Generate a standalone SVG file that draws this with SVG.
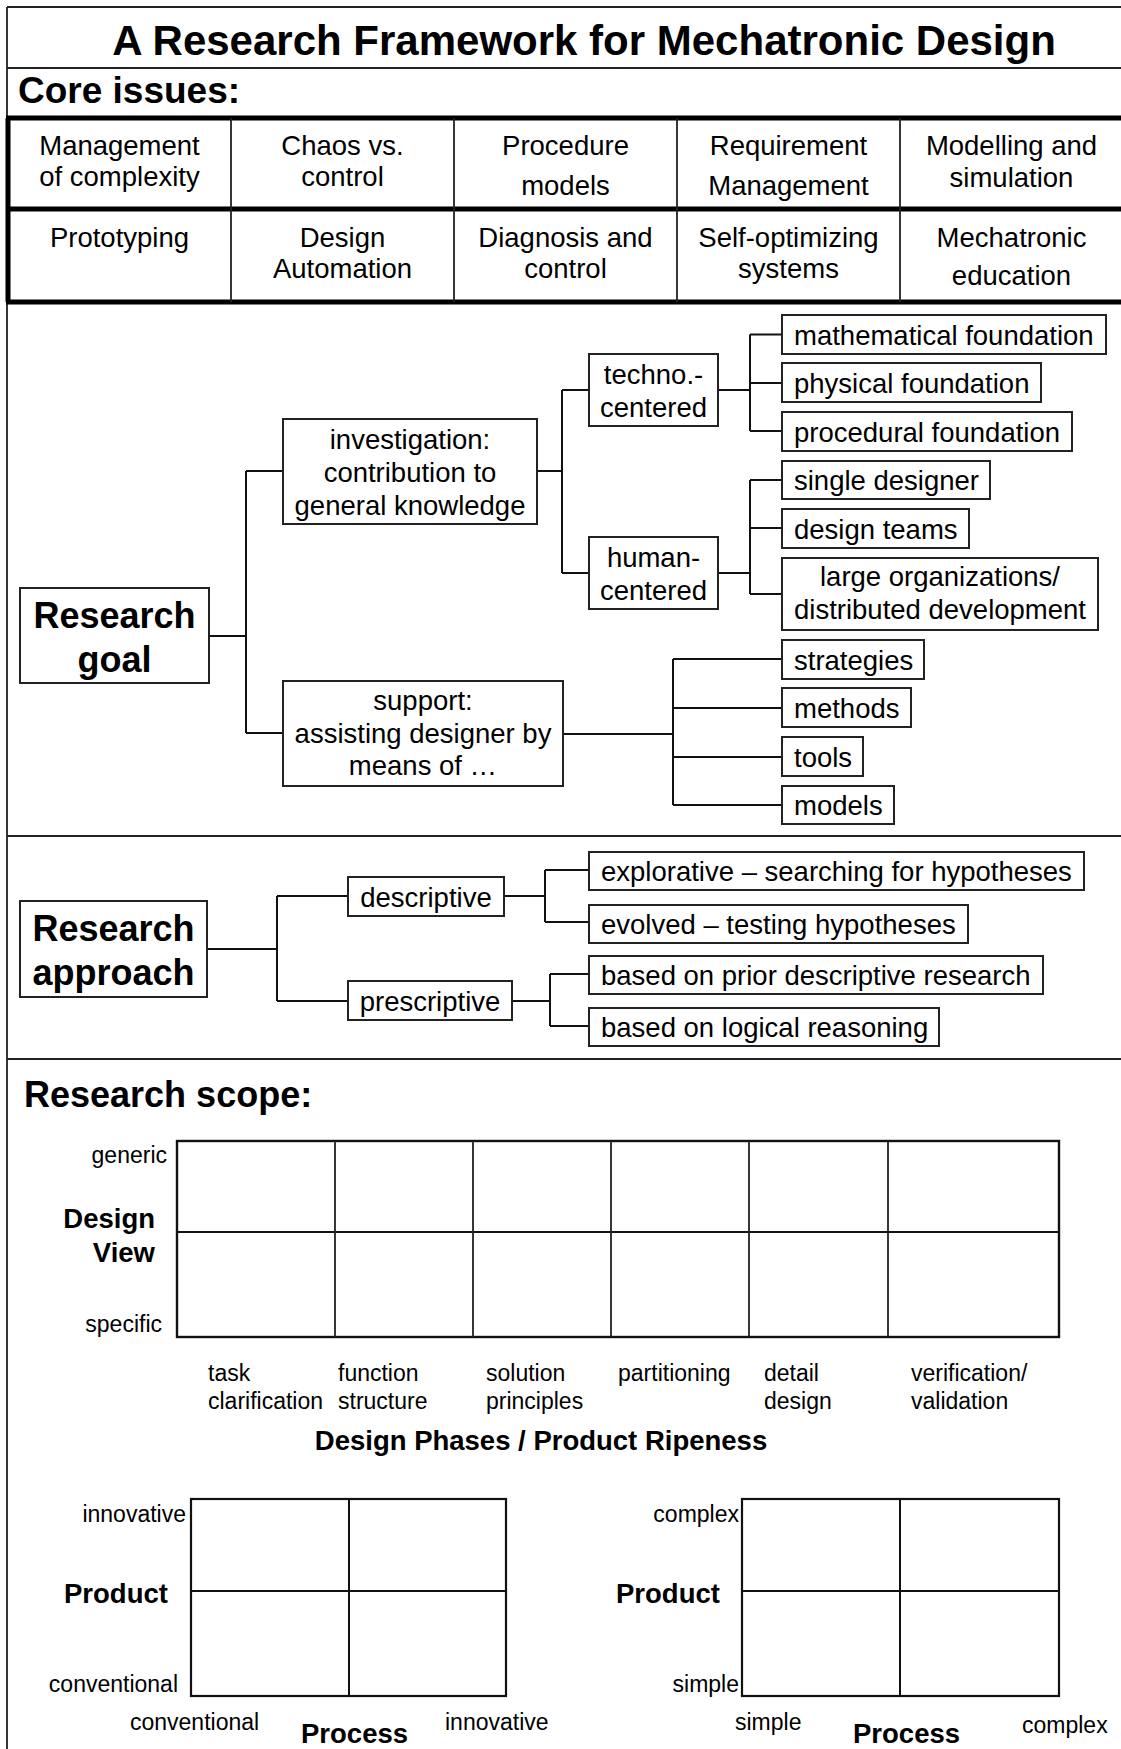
<svg xmlns="http://www.w3.org/2000/svg" width="1121" height="1749" viewBox="0 0 1121 1749">
<style>
text{font-family:"Liberation Sans",Arial,sans-serif;fill:#000}
.t{font-size:27.5px}
.c{text-anchor:middle}
.r{text-anchor:end}
.b{font-weight:bold}
.h1{font-size:42px;font-weight:bold}
.h2{font-size:36px;font-weight:bold}
.h3{font-size:37px;font-weight:bold}
.s{font-size:23px}
.m{font-size:27.5px;font-weight:bold}
.box{fill:#fff;stroke:#222;stroke-width:2}
.ln{fill:none;stroke:#111;stroke-width:2}
.thin{fill:none;stroke:#222;stroke-width:1.8}
.thick{fill:none;stroke:#000;stroke-width:5}
</style>
<rect width="1121" height="1749" fill="#fff"/>
<g id="frame">
<path class="thin" d="M7,7H1121M7,7V1749"/>
<path class="thin" d="M7,68H1121"/>
<path class="thin" d="M7,836H1121M7,1059H1121"/>
</g>
<text class="h1 c" x="584" y="55">A Research Framework for Mechatronic Design</text>
<text class="h3" x="18" y="103">Core issues:</text>
<g id="core-table">
<path class="thick" d="M8,118V302M6,118H1121M6,209H1121M6,302H1121"/>
<path class="thin" d="M231,118V302M454,118V302M677,118V302M900,118V302"/>
</g>
<g id="core-cells" class="t c">
<g id="c11"><text class="t c" x="119.5" y="155">Management</text><text class="t c" x="119.5" y="186">of complexity</text></g>
<g id="c12"><text class="t c" x="342.5" y="155">Chaos vs.</text><text class="t c" x="342.5" y="186">control</text></g>
<g id="c13"><text class="t c" x="565.5" y="155">Procedure</text><text class="t c" x="565.5" y="195">models</text></g>
<g id="c14"><text class="t c" x="788.5" y="155">Requirement</text><text class="t c" x="788.5" y="195">Management</text></g>
<g id="c15"><text class="t c" x="1011.5" y="155">Modelling and</text><text class="t c" x="1011.5" y="187">simulation</text></g>
<g id="c21"><text class="t c" x="119.5" y="247">Prototyping</text></g>
<g id="c22"><text class="t c" x="342.5" y="247">Design</text><text class="t c" x="342.5" y="278">Automation</text></g>
<g id="c23"><text class="t c" x="565.5" y="247">Diagnosis and</text><text class="t c" x="565.5" y="278">control</text></g>
<g id="c24"><text class="t c" x="788.5" y="247">Self-optimizing</text><text class="t c" x="788.5" y="278">systems</text></g>
<g id="c25"><text class="t c" x="1011.5" y="247">Mechatronic</text><text class="t c" x="1011.5" y="285">education</text></g>
</g>
<g id="connectors">
<path class="ln" d="M209,636H246M246,471V733M246,471H283M246,733H283"/>
<path class="ln" d="M537,471H562M562,390V573M562,390H589M562,573H589"/>
<path class="ln" d="M718,390H750M750,334.5V431M750,334.5H782M750,383H782M750,431H782"/>
<path class="ln" d="M718,573H750M750,480V594M750,480H782M750,528H782M750,594H782"/>
<path class="ln" d="M563,734H673M673,659V805M673,659H782M673,708H782M673,757H782M673,805H782"/>
<path class="ln" d="M207,949H277M277,896V1001M277,896H348M277,1001H348"/>
<path class="ln" d="M504,896H545M545,870V922M545,870H589M545,922H589"/>
<path class="ln" d="M512,1001H550M550,974V1026M550,974H589M550,1026H589"/>
</g>
<g id="research-goal"><rect class="box" x="20" y="588" width="189" height="95"/><text class="h2 c" x="114.5" y="628">Research</text><text class="h2 c" x="114.5" y="672">goal</text></g>
<g id="investigation"><rect class="box" x="283" y="419" width="254" height="105"/><text class="t c" x="410" y="449">investigation:</text><text class="t c" x="410" y="482">contribution to</text><text class="t c" x="410" y="515">general knowledge</text></g>
<g id="support"><rect class="box" x="283" y="681" width="280" height="105"/><text class="t c" x="423" y="710">support:</text><text class="t c" x="423" y="743">assisting designer by</text><text class="t c" x="423" y="775">means of …</text></g>
<g id="techno"><rect class="box" x="589" y="354" width="129" height="72"/><text class="t c" x="653.5" y="384">techno.-</text><text class="t c" x="653.5" y="417">centered</text></g>
<g id="human"><rect class="box" x="589" y="537" width="129" height="72"/><text class="t c" x="653.5" y="567">human-</text><text class="t c" x="653.5" y="600">centered</text></g>
<g id="math"><rect class="box" x="782" y="315" width="324" height="39"/><text class="t" x="794" y="345">mathematical foundation</text></g>
<g id="physical"><rect class="box" x="782" y="363" width="259" height="39"/><text class="t" x="794" y="393">physical foundation</text></g>
<g id="procedural"><rect class="box" x="782" y="412" width="290" height="39"/><text class="t" x="794" y="442">procedural foundation</text></g>
<g id="single"><rect class="box" x="782" y="461" width="208" height="38"/><text class="t" x="794" y="490">single designer</text></g>
<g id="teams"><rect class="box" x="782" y="509" width="187" height="39"/><text class="t" x="794" y="539">design teams</text></g>
<g id="large"><rect class="box" x="782" y="558" width="316" height="72"/><text class="t c" x="940" y="586">large organizations/</text><text class="t c" x="940" y="619">distributed development</text></g>
<g id="strategies"><rect class="box" x="782" y="640" width="142" height="39"/><text class="t" x="794" y="670">strategies</text></g>
<g id="methods"><rect class="box" x="782" y="688" width="129" height="39"/><text class="t" x="794" y="718">methods</text></g>
<g id="tools"><rect class="box" x="782" y="737" width="81" height="39"/><text class="t" x="794" y="767">tools</text></g>
<g id="models"><rect class="box" x="782" y="786" width="112" height="38"/><text class="t" x="794" y="815">models</text></g>
<g id="research-approach"><rect class="box" x="20" y="901" width="187" height="96"/><text class="h2 c" x="113.5" y="941">Research</text><text class="h2 c" x="113.5" y="985">approach</text></g>
<g id="descriptive"><rect class="box" x="348" y="877" width="156" height="39"/><text class="t c" x="426" y="907">descriptive</text></g>
<g id="prescriptive"><rect class="box" x="348" y="981" width="164" height="39"/><text class="t c" x="430" y="1011">prescriptive</text></g>
<g id="explorative"><rect class="box" x="589" y="852" width="495" height="38"/><text class="t" x="601" y="881">explorative – searching for hypotheses</text></g>
<g id="evolved"><rect class="box" x="589" y="905" width="379" height="38"/><text class="t" x="601" y="934">evolved – testing hypotheses</text></g>
<g id="prior"><rect class="box" x="589" y="956" width="454" height="38"/><text class="t" x="601" y="985">based on prior descriptive research</text></g>
<g id="logical"><rect class="box" x="589" y="1008" width="350" height="38"/><text class="t" x="601" y="1037">based on logical reasoning</text></g>
<text class="h2" x="24" y="1107">Research scope:</text>
<g id="scope-grid">
<rect x="177" y="1141" width="882" height="196" fill="none" stroke="#111" stroke-width="2.4"/>
<path class="ln" d="M177,1232H1059"/>
<path class="thin" d="M335,1141V1337M473,1141V1337M611,1141V1337M749,1141V1337M888,1141V1337"/>
<text class="s r" x="167" y="1163">generic</text>
<text class="m r" x="155" y="1228">Design</text>
<text class="m r" x="155" y="1262">View</text>
<text class="s r" x="162" y="1332">specific</text>
<text class="s" x="208" y="1381">task</text><text class="s" x="208" y="1409">clarification</text>
<text class="s" x="338" y="1381">function</text><text class="s" x="338" y="1409">structure</text>
<text class="s" x="486" y="1381">solution</text><text class="s" x="486" y="1409">principles</text>
<text class="s" x="618" y="1381">partitioning</text>
<text class="s" x="764" y="1381">detail</text><text class="s" x="764" y="1409">design</text>
<text class="s" x="911" y="1381">verification/</text><text class="s" x="911" y="1409">validation</text>
<text class="m c" x="541" y="1450">Design Phases / Product Ripeness</text>
</g>
<g id="quad-left">
<rect x="191" y="1499" width="315" height="197" fill="none" stroke="#111" stroke-width="2.2"/>
<path class="ln" d="M191,1591H506M349,1499V1696"/>
<text class="s r" x="186" y="1522">innovative</text>
<text class="m" x="64" y="1603">Product</text>
<text class="s r" x="178" y="1692">conventional</text>
<text class="s" x="130" y="1730">conventional</text>
<text class="m" x="301" y="1743">Process</text>
<text class="s" x="445" y="1730">innovative</text>
</g>
<g id="quad-right">
<rect x="742" y="1499" width="317" height="197" fill="none" stroke="#111" stroke-width="2.2"/>
<path class="ln" d="M742,1591H1059M900,1499V1696"/>
<text class="s r" x="739" y="1522">complex</text>
<text class="m" x="616" y="1603">Product</text>
<text class="s r" x="739" y="1692">simple</text>
<text class="s" x="735" y="1730">simple</text>
<text class="m" x="853" y="1743">Process</text>
<text class="s" x="1022" y="1733">complex</text>
</g>
</svg>
